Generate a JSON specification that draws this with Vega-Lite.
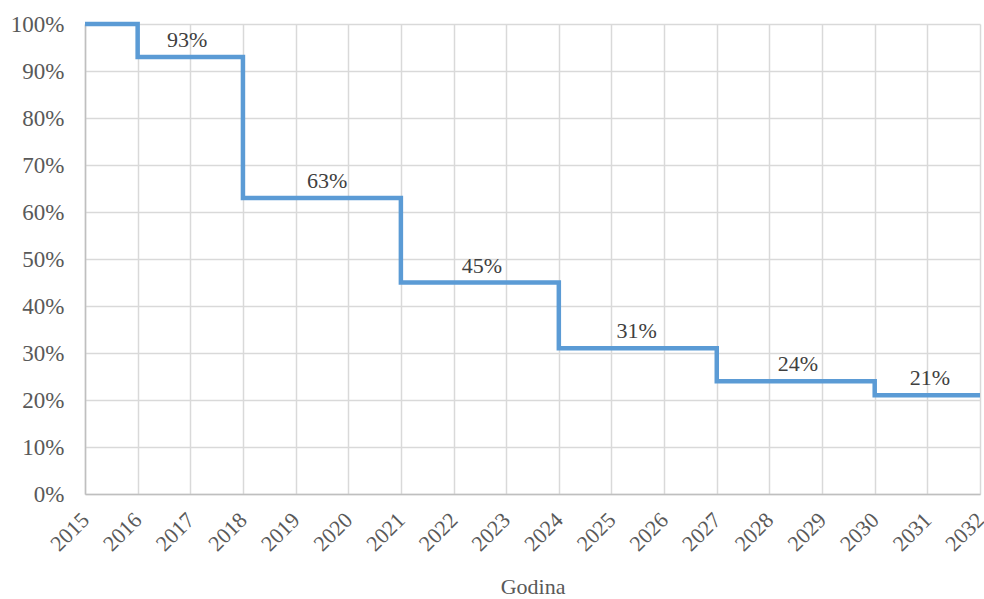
{
  "$schema": "https://vega.github.io/schema/vega-lite/v6.json",
  "autosize": "none",
  "padding": {"left": 85, "top": 24, "right": 4, "bottom": 105},
  "width": 895,
  "height": 470,
  "background": "white",
  "config": {
    "view": {"stroke": null},
    "font": "Liberation Serif",
    "axis": {
      "labelFont": "Liberation Serif",
      "titleFont": "Liberation Serif",
      "labelFontSize": 22,
      "titleFontSize": 22,
      "labelColor": "#595959",
      "titleColor": "#595959",
      "gridColor": "#d9d9d9",
      "gridWidth": 1.5,
      "domainColor": "#bfbfbf",
      "domainWidth": 1.5,
      "ticks": false,
      "titleFontWeight": "normal"
    }
  },
  "datasets": {
    "series": [
      {"year": 2015, "share": 1.00},
      {"year": 2016, "share": 0.93},
      {"year": 2017, "share": 0.93},
      {"year": 2018, "share": 0.63},
      {"year": 2019, "share": 0.63},
      {"year": 2020, "share": 0.63},
      {"year": 2021, "share": 0.45},
      {"year": 2022, "share": 0.45},
      {"year": 2023, "share": 0.45},
      {"year": 2024, "share": 0.31},
      {"year": 2025, "share": 0.31},
      {"year": 2026, "share": 0.31},
      {"year": 2027, "share": 0.24},
      {"year": 2028, "share": 0.24},
      {"year": 2029, "share": 0.24},
      {"year": 2030, "share": 0.21},
      {"year": 2031, "share": 0.21},
      {"year": 2032, "share": 0.21}
    ],
    "labels": [
      {"year": 2016.94, "share": 0.93, "text": "93%"},
      {"year": 2019.6, "share": 0.63, "text": "63%"},
      {"year": 2022.54, "share": 0.45, "text": "45%"},
      {"year": 2025.48, "share": 0.31, "text": "31%"},
      {"year": 2028.54, "share": 0.24, "text": "24%"},
      {"year": 2031.05, "share": 0.21, "text": "21%"}
    ]
  },
  "layer": [
    {
      "data": {"name": "series"},
      "mark": {"type": "line", "interpolate": "step-after", "color": "#5B9BD5", "strokeWidth": 4.5, "strokeJoin": "miter", "strokeCap": "butt"},
      "encoding": {
        "x": {
          "field": "year", "type": "quantitative",
          "scale": {"domain": [2015, 2032], "nice": false, "zero": false},
          "axis": {
            "title": "Godina",
            "values": [2015,2016,2017,2018,2019,2020,2021,2022,2023,2024,2025,2026,2027,2028,2029,2030,2031,2032],
            "format": "d",
            "labelAngle": -45,
            "labelAlign": "right",
            "labelBaseline": "middle",
            "labelPadding": 22,
            "labelOverlap": false,
            "labelFlush": false,
            "titlePadding": 22
          }
        },
        "y": {
          "field": "share", "type": "quantitative",
          "scale": {"domain": [0, 1], "nice": false},
          "axis": {
            "title": null,
            "values": [0,0.1,0.2,0.3,0.4,0.5,0.6,0.7,0.8,0.9,1.0],
            "format": ".0%",
            "labelFontSize": 23,
            "labelPadding": 21,
            "domain": true
          }
        }
      }
    },
    {
      "data": {"name": "labels"},
      "mark": {"type": "text", "font": "Liberation Serif", "fontSize": 22, "color": "#404040", "dy": -17, "baseline": "middle", "align": "center"},
      "encoding": {
        "x": {"field": "year", "type": "quantitative"},
        "y": {"field": "share", "type": "quantitative"},
        "text": {"field": "text"}
      }
    }
  ]
}
